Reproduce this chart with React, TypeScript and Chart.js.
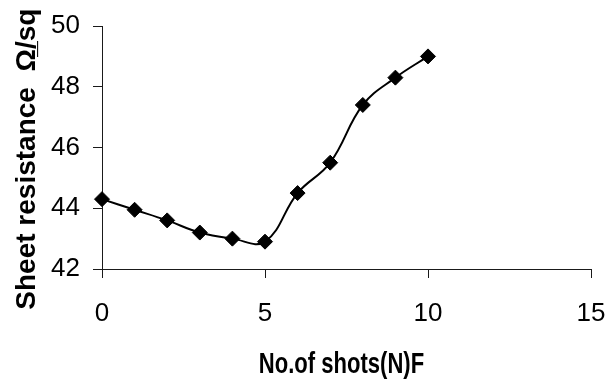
import { useEffect, useRef } from "react";
import { Chart, registerables } from "chart.js";

Chart.register(...registerables);

const shots = [0, 1, 2, 3, 4, 5, 6, 7, 8, 9, 10];
const resistance = [44.3, 43.95, 43.6, 43.2, 43.0, 42.9, 44.5, 45.5, 47.4, 48.3, 49.0];
const xTickValues = [0, 5, 10, 15];
const yTickValues = [42, 44, 46, 48, 50];
const xTitle = "No.of shots(N)F";
const yTitle = "Sheet resistance  Ω̲/sq   ";

const xTitlePlugin = {
  id: "xTitleNarrow",
  afterDraw(chart: any) {
    const { ctx, chartArea } = chart;
    ctx.save();
    ctx.fillStyle = "#000";
    ctx.font = 'bold 29px "Liberation Sans", Arial, sans-serif';
    ctx.textAlign = "center";
    ctx.textBaseline = "alphabetic";
    ctx.translate((chartArea.left + chartArea.right) / 2 - 5, 373);
    ctx.scale(0.76, 1);
    ctx.fillText(xTitle, 0, 0);
    ctx.restore();
  },
};

export default function App() {
  const ref = useRef<HTMLCanvasElement | null>(null);

  useEffect(() => {
    if (!ref.current) return;
    const points = shots.map((x, i) => ({ x, y: resistance[i] }));
    const axisColor = "#1a1a1a";
    const chart = new Chart(ref.current, {
      type: "scatter",
      data: {
        datasets: [
          {
            data: points,
            showLine: true,
            tension: 0.4,
            borderColor: "#000",
            borderWidth: 2,
            pointStyle: "rectRot",
            pointRadius: 7.5,
            pointHoverRadius: 7.5,
            pointBackgroundColor: "#000",
            pointBorderColor: "#000",
            pointBorderWidth: 1,
            clip: false as any,
          },
        ],
      },
      plugins: [xTitlePlugin],
      options: {
        responsive: false,
        animation: false,
        events: [],
        layout: { padding: { left: 0, top: 26, right: 20, bottom: 0 } },
        plugins: { legend: { display: false }, tooltip: { enabled: false } },
        scales: {
          x: {
            type: "linear",
            min: 0,
            max: 15,
            afterBuildTicks: (s: any) => {
              s.ticks = xTickValues.map((v) => ({ value: v }));
            },
            afterFit: (s: any) => {
              s.height = 114;
              s.paddingLeft = 0;
              s.paddingRight = 0;
            },
            grid: {
              drawOnChartArea: false,
              drawTicks: true,
              tickLength: 9,
              color: axisColor,
              lineWidth: 1,
            },
            border: { display: true, color: axisColor, width: 1 },
            ticks: {
              padding: 20,
              color: "#000",
              maxRotation: 0,
              font: { family: '"Liberation Sans", Arial, sans-serif', size: 26 },
            },
            title: { display: false },
          },
          y: {
            type: "linear",
            min: 42,
            max: 50,
            afterBuildTicks: (s: any) => {
              s.ticks = yTickValues.map((v) => ({ value: v }));
            },
            afterFit: (s: any) => {
              s.width = 102;
              s.paddingTop = 0;
              s.paddingBottom = 0;
            },
            grid: {
              drawOnChartArea: false,
              drawTicks: true,
              tickLength: 9,
              color: axisColor,
              lineWidth: 1,
            },
            border: { display: true, color: axisColor, width: 1 },
            ticks: {
              padding: 13,
              color: "#000",
              font: { family: '"Liberation Sans", Arial, sans-serif', size: 26 },
            },
            title: {
              display: true,
              text: yTitle,
              color: "#000",
              font: { family: '"Liberation Sans", Arial, sans-serif', size: 28, weight: "bold" },
              padding: { top: 10, bottom: 0 },
            },
          },
        },
      },
    });
    return () => chart.destroy();
  }, []);

  return (
    <div
      style={{
        position: "fixed",
        left: 0,
        top: 0,
        width: 611,
        height: 383,
        background: "#fff",
      }}
    >
      <canvas ref={ref} width={611} height={383} />
    </div>
  );
}
